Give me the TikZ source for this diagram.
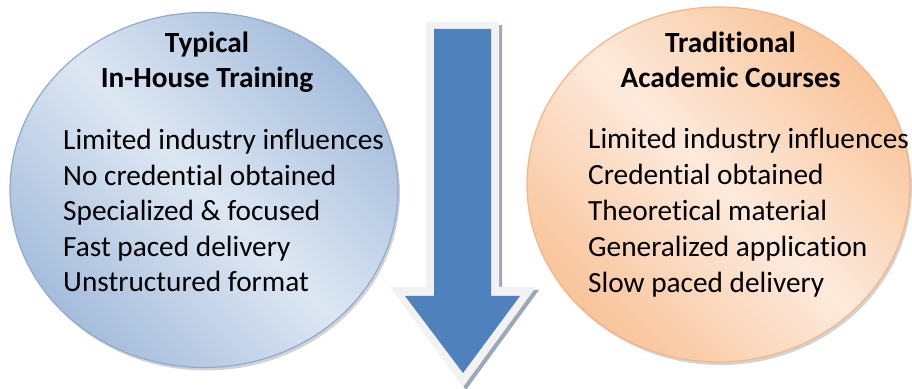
\documentclass[tikz,border=0pt]{standalone}
\usepackage{fontspec}
\setmainfont{Carlito}[RawFeature={-liga}]
\usetikzlibrary{shapes.geometric,shadows}
\definecolor{bDark}{HTML}{A5BDDC}
\definecolor{bLight}{HTML}{DDE7F3}
\definecolor{bEdge}{HTML}{8FAAD0}
\definecolor{oDark}{HTML}{F9C49A}
\definecolor{oLight}{HTML}{FDEADC}
\definecolor{oEdge}{HTML}{F5B486}
\definecolor{arrBlue}{HTML}{4F81BD}
\definecolor{arrRim}{HTML}{F2F2F2}
\definecolor{arrShade}{HTML}{9CA7B8}
\pgfdeclarehorizontalshading{blueshade}{100bp}{color(0bp)=(bDark); color(25bp)=(bDark); color(50bp)=(bLight); color(75bp)=(bDark); color(100bp)=(bDark)}
\pgfdeclarehorizontalshading{orangeshade}{100bp}{color(0bp)=(oDark); color(25bp)=(oDark); color(50bp)=(oLight); color(75bp)=(oDark); color(100bp)=(oDark)}
\begin{document}
\begin{tikzpicture}[x=1pt,y=1pt,
  bubble/.style={ellipse, line width=1.2pt, shading angle=45,
    drop shadow={shadow xshift=2pt, shadow yshift=-3pt, opacity=0.35, fill=gray}},
  title/.style={font=\fontsize{29.3}{35}\selectfont\bfseries, anchor=base, inner sep=0pt},
  item/.style={font=\fontsize{29.3}{35}\selectfont, anchor=base west, inner sep=0pt}]
\useasboundingbox (0,0) rectangle (912,388);
% circles
\node[bubble, draw=bEdge, shading=blueshade, minimum width=388pt, minimum height=355pt] (left) at (204,198) {};
\node[bubble, draw=oEdge, shading=orangeshade, minimum width=383pt, minimum height=355pt] (right) at (718.5,203.5) {};
% arrow
\fill[arrShade] (429,363) -- (502,363) -- (502,98) -- (539,98) -- (466,-2) -- (393,98) -- (429,98) -- cycle;
\fill[arrRim] (426,366) -- (499,366) -- (499,101) -- (536,101) -- (463,1) -- (390,101) -- (426,101) -- cycle;
\fill[arrBlue] (434,359) -- (491,359) -- (491,92) -- (520,92) -- (463,15) -- (405,92) -- (434,92) -- cycle;
% left texts
\node[title] (lt1) at (207,335) {Typical};
\node[title] (lt2) at (207,300) {In-House Training};
\node[item] (l1) at (63,238) {Limited industry influences};
\node[item] (l2) at (63,202.5) {No credential obtained};
\node[item] (l3) at (63,167) {Specialized \& focused};
\node[item] (l4) at (63,131.5) {Fast paced delivery};
\node[item] (l5) at (63,96) {Unstructured format};
% right texts
\node[title] (rt1) at (730.5,335) {Traditional};
\node[title] (rt2) at (730.5,300) {Academic Courses};
\node[item] (r1) at (588,239.5) {Limited industry influences};
\node[item] (r2) at (588,203.5) {Credential obtained};
\node[item] (r3) at (588,167.5) {Theoretical material};
\node[item] (r4) at (588,131.5) {Generalized application};
\node[item] (r5) at (588,95.5) {Slow paced delivery};
\end{tikzpicture}
\end{document}
